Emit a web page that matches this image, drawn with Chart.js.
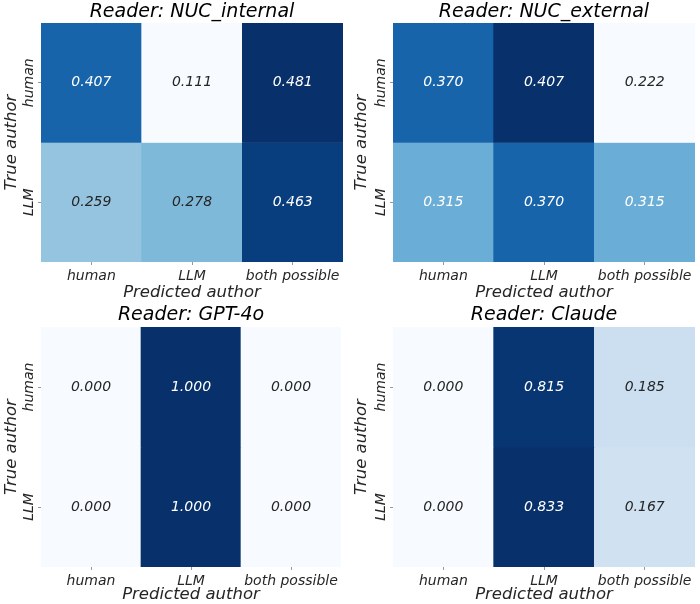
<!DOCTYPE html>
<html>
<head>
<meta charset="utf-8">
<script src="https://cdn.jsdelivr.net/npm/chart.js@4.4.0/dist/chart.umd.min.js"></script>
<style>
  html, body { margin: 0; padding: 0; background: #fff; }
  .panel { position: absolute; width: 350px; height: 302px; }
</style>
</head>
<body>
<div class="panel" style="left:0;top:0"><canvas id="c0" width="350" height="302"></canvas></div>
<div class="panel" style="left:350px;top:0"><canvas id="c1" width="350" height="302"></canvas></div>
<div class="panel" style="left:0;top:302px"><canvas id="c2" width="350" height="302"></canvas></div>
<div class="panel" style="left:350px;top:302px"><canvas id="c3" width="350" height="302"></canvas></div>
<script>
// Axis categories
const predictedLabels = ['human', 'LLM', 'both possible'];
const trueLabels = ['human', 'LLM'];

// Share of predictions per true author (rows) and predicted author (columns)
const readerNames = ['NUC_internal', 'NUC_external', 'GPT-4o', 'Claude'];
const nucInternal = [[0.407, 0.111, 0.481], [0.259, 0.278, 0.463]];
const nucExternal = [[0.370, 0.407, 0.222], [0.315, 0.370, 0.315]];
const gpt4o = [[0.000, 1.000, 0.000], [0.000, 1.000, 0.000]];
const claude = [[0.000, 0.815, 0.185], [0.000, 0.833, 0.167]];
const matrices = [nucInternal, nucExternal, gpt4o, claude];

// matplotlib "Blues"
const blues = ['#f7fbff', '#deebf7', '#c6dbef', '#9ecae1', '#6baed6', '#4292c6', '#2171b5', '#08519c', '#08306b'];

function hexRgb(h) {
  return [1, 3, 5].map(i => parseInt(h.substr(i, 2), 16));
}

function blueAt(t) {
  t = Math.max(0, Math.min(1, t));
  const pos = t * (blues.length - 1);
  const i = Math.min(Math.floor(pos), blues.length - 2);
  const f = pos - i;
  const a = hexRgb(blues[i]), b = hexRgb(blues[i + 1]);
  return a.map((v, k) => Math.round(v + (b[k] - v) * f));
}

function textColorFor(rgb) {
  const lin = rgb.map(v => {
    const c = v / 255;
    return c <= 0.03928 ? c / 12.92 : Math.pow((c + 0.055) / 1.055, 2.4);
  });
  const lum = 0.2126 * lin[0] + 0.7152 * lin[1] + 0.0722 * lin[2];
  return lum > 0.408 ? '#262626' : '#ffffff';
}

const FONT = '"DejaVu Sans", sans-serif';

// Writes the value in the middle of each cell
const cellText = {
  id: 'cellText',
  afterDatasetsDraw(chart, args, opts) {
    const ctx = chart.ctx;
    ctx.save();
    ctx.font = 'italic 14px ' + FONT;
    ctx.textAlign = 'center';
    ctx.textBaseline = 'middle';
    chart.data.datasets.forEach((ds, r) => {
      chart.getDatasetMeta(r).data.forEach((bar, c) => {
        const v = opts.matrix[r][c];
        const p = bar.getCenterPoint();
        ctx.fillStyle = textColorFor(blueAt((v - opts.lo) / (opts.hi - opts.lo)));
        ctx.fillText(v.toFixed(3), p.x, p.y);
      });
    });
    ctx.restore();
  }
};

const layouts = [
  { yWidth: 41, right: 7, xHeight: 40, titlePad: { top: 3, bottom: 1 } },
  { yWidth: 43, right: 5, xHeight: 40, titlePad: { top: 3, bottom: 1 } },
  { yWidth: 41, right: 9, xHeight: 37, titlePad: { top: 4, bottom: 2 } },
  { yWidth: 43, right: 5, xHeight: 37, titlePad: { top: 4, bottom: 2 } }
];

matrices.forEach((matrix, n) => {
  const flat = matrix.flat();
  const lo = Math.min(...flat);
  const hi = Math.max(...flat);
  const lay = layouts[n];

  const datasets = trueLabels.map((rowName, r) => ({
    label: rowName,
    data: matrix[r].map(() => [r, r + 1]),
    backgroundColor: matrix[r].map(v => 'rgb(' + blueAt((v - lo) / (hi - lo)).join(',') + ')'),
    borderWidth: 0,
    grouped: false,
    barPercentage: 1,
    categoryPercentage: 1
  }));

  new Chart(document.getElementById('c' + n).getContext('2d'), {
    type: 'bar',
    data: { labels: predictedLabels, datasets: datasets },
    plugins: [cellText],
    options: {
      responsive: false,
      animation: false,
      layout: { padding: { left: 0, right: lay.right, top: 0, bottom: 0 } },
      plugins: {
        legend: { display: false },
        tooltip: { enabled: false },
        title: {
          display: true,
          fullSize: false,
          text: 'Reader: ' + readerNames[n],
          color: '#000',
          font: { family: FONT, size: 19, style: 'italic', weight: 'normal', lineHeight: 1 },
          padding: lay.titlePad
        },
        cellText: { matrix: matrix, lo: lo, hi: hi }
      },
      scales: {
        x: {
          grid: { offset: false, drawOnChartArea: false, drawTicks: true, tickLength: 3, color: '#999' },
          border: { display: false },
          ticks: {
            color: '#262626',
            padding: 3,
            maxRotation: 0,
            autoSkip: false,
            font: { family: FONT, size: 14, style: 'italic' }
          },
          title: {
            display: true,
            text: 'Predicted author',
            color: '#262626',
            padding: { top: 0, bottom: 0 },
            font: { family: FONT, size: 16.5, style: 'italic', lineHeight: 1.1 }
          },
          afterFit: axis => { axis.height = lay.xHeight; }
        },
        y: {
          type: 'linear',
          min: 0,
          max: trueLabels.length,
          reverse: true,
          grid: { drawOnChartArea: false, drawTicks: true, tickLength: 3, color: '#999' },
          border: { display: false },
          afterBuildTicks: axis => {
            axis.ticks = trueLabels.map((_, i) => ({ value: i + 0.5 }));
          },
          ticks: {
            color: '#262626',
            minRotation: 90,
            maxRotation: 90,
            crossAlign: 'center',
            padding: -16,
            autoSkip: false,
            font: { family: FONT, size: 14, style: 'italic' },
            callback: (value, i) => trueLabels[i]
          },
          title: {
            display: true,
            text: 'True author',
            color: '#262626',
            padding: { top: 2, bottom: 0 },
            font: { family: FONT, size: 16.5, style: 'italic', lineHeight: 1.2 }
          },
          afterFit: axis => { axis.width = lay.yWidth; }
        }
      }
    }
  });
});
</script>
</body>
</html>
